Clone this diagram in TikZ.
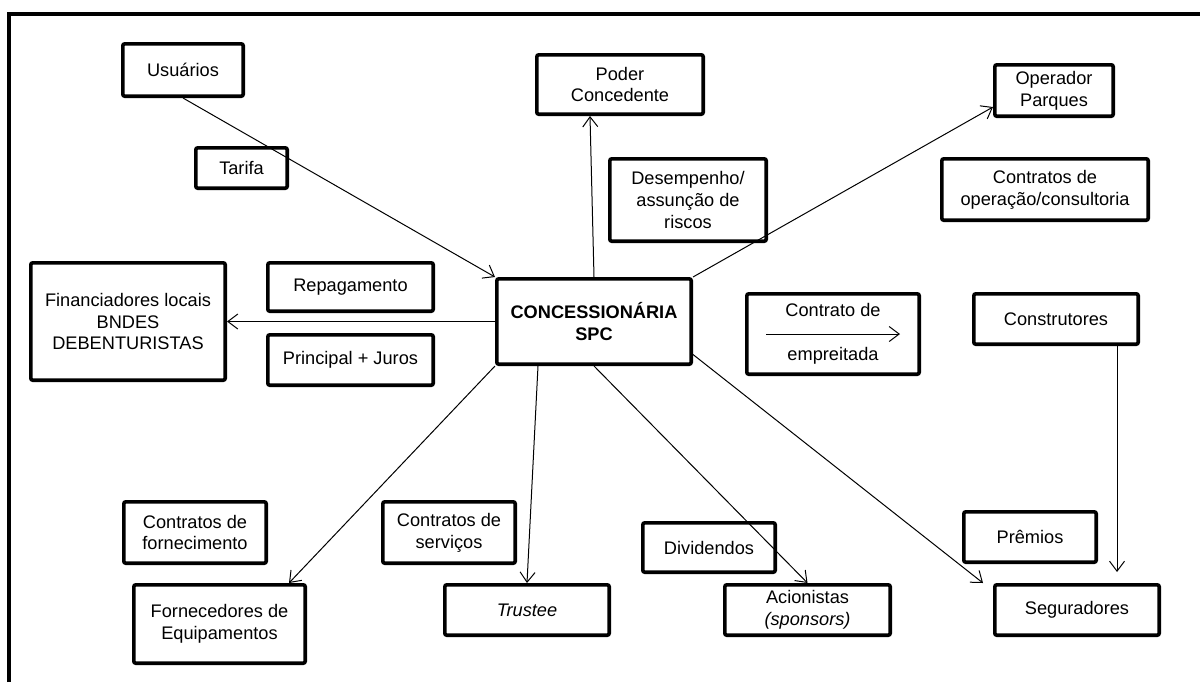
\documentclass[tikz,border=0pt]{standalone}
\usepackage{fontspec}
\setmainfont{Liberation Sans}
\usetikzlibrary{positioning, arrows.meta, calc}

\begin{document}
\begin{tikzpicture}[
  x=0.5pt, y=-0.5pt,
  every node/.style={font=\fontsize{9.1}{10.9}\selectfont},
  blk/.style={draw, line width=1.8pt, rounded corners=1pt, align=center, inner sep=0pt},
  arr/.style={-{Straight Barb[length=5pt, width=7.5pt]}, line width=0.5pt}
]
\useasboundingbox (0,0) rectangle (1200,682);
% frame
\draw[line width=2pt] (9,682) -- (9,13.5) -- (1200,13.5);

% boxes: (name, centre, width, height, text)
\def\ent#1#2#3#4#5{%
  \node[blk, minimum width={#3pt-1.8pt}, minimum height={#4pt-1.8pt}] (#1) at (#2) {#5};
}
\ent{usu}{183,70}{62}{28}{Usuários}
\ent{tar}{241.5,168}{47.5}{22}{Tarifa}
\ent{pod}{620,84.5}{85}{31.5}{Poder\\Concedente}
\ent{des}{688,200}{80}{43}{Desempenho/\\assunção de\\riscos}
\ent{opr}{1054,90.5}{61}{27.5}{Operador\\Parques}
\ent{cop}{1045,189.5}{105}{32.5}{Contratos de\\operação/consultoria}
\ent{fin}{128,321.5}{99}{60.5}{Financiadores locais\\BNDES\\DEBENTURISTAS}
\ent{rep}{350.5,287}{84.5}{26}{Repagamento}
\ent{pjr}{350.5,360}{84.5}{27}{Principal + Juros}
\ent{spc}{594,321.5}{99}{44.5}{\textbf{CONCESSIONÁRIA}\\\textbf{SPC}}
\ent{emp}{833,334}{88}{42}{Contrato de\\[11pt]empreitada}
\ent{cons}{1056,319}{84}{27}{Construtores}
\ent{cfo}{195,532.5}{73}{32.5}{Contratos de\\fornecimento}
\ent{forn}{219.5,624}{87.5}{41}{Fornecedores de\\Equipamentos}
\ent{cse}{449,532.5}{68}{32.5}{Contratos de\\serviços}
\ent{tru}{527,610}{84}{27}{\textit{Trustee}}
\ent{div}{709,547.5}{68}{26.5}{Dividendos}
\ent{aci}{807.5,610}{84.5}{27}{Acionistas\\\textit{(sponsors)}}
\ent{pre}{1030,537}{68}{27}{Prêmios}
\ent{seg}{1077,610}{84}{27}{Seguradores}

% flows
\draw[arr] (usu.south) -- (spc.north west);
\draw[arr] (spc.north) -- ([xshift=-15pt]pod.south);
\draw[arr] (spc.north east) -- ([yshift=5.5pt]opr.south west);
\draw[arr] (spc.west) -- (fin.east);
\draw[arr] (spc.south west) -- ([xshift=-9pt]forn.north east);
\draw[arr] ([xshift=-28pt]spc.south) -- (tru.north);
\draw[arr] (spc.south) -- (aci.north);
\draw[arr] ([yshift=-16.5pt]spc.east) -- ([xshift=-5pt]seg.north west);
\draw[arr, shorten >=5.5pt] ([xshift=30.5pt]cons.south) -- ([xshift=30.5pt]cons.south |- seg.north);
\draw[arr] ([xshift=-33.5pt]emp.center) -- ([xshift=33.5pt]emp.center);
\end{tikzpicture}
\end{document}
